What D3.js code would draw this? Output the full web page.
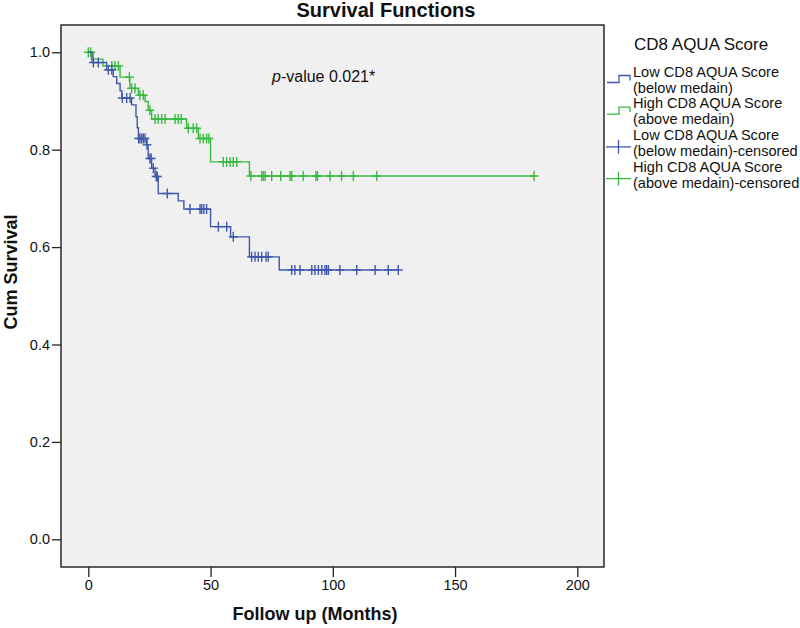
<!DOCTYPE html>
<html><head><meta charset="utf-8">
<script src="https://cdn.jsdelivr.net/npm/d3@7"></script>
<style>
body{margin:0;background:#fff;}
text{font-family:"Liberation Sans",Arial,sans-serif;fill:#111;}
</style>
</head><body>
<svg id="chart" width="800" height="628"></svg>
<script>
// ---- data ----
const lowStepTimes  = [1.5, 7.5, 10.2, 11.6, 13.0, 13.7, 17.7, 19.5, 20.0, 20.5, 23.9, 24.5, 25.9, 27.3, 28.6, 36.8, 39.1, 50.0, 58.2, 65.9, 78.1];
const lowStepSurv   = [0.979, 0.964, 0.950, 0.936, 0.921, 0.906, 0.892, 0.868, 0.845, 0.823, 0.810, 0.782, 0.762, 0.745, 0.710, 0.695, 0.678, 0.642, 0.621, 0.580, 0.553];
const lowCensorTimes = [2.1, 4.1, 8.2, 9.6, 13.9, 15.7, 17.1, 20.6, 21.1, 21.8, 22.5, 23.2, 24.0, 25.2, 25.7, 26.6, 27.8, 28.2, 32.3, 41.6, 45.7, 46.4, 47.3, 48.4, 53.2, 56.6, 59.3, 66.8, 68.2, 69.5, 70.9, 72.7, 73.6, 83.2, 84.5, 86.6, 91.4, 92.7, 94.1, 95.5, 96.8, 97.5, 98.2, 102.9, 109.8, 117.3, 122.7, 126.8];

const highStepTimes = [2.0, 6.0, 13.0, 17.0, 20.5, 23.2, 24.5, 25.9, 40.2, 45.0, 50.0, 65.9];
const highStepSurv  = [0.986, 0.972, 0.949, 0.926, 0.912, 0.899, 0.881, 0.863, 0.844, 0.823, 0.775, 0.746];
const highCensorTimes = [0, 1.0, 9.6, 10.9, 12.3, 16.8, 17.7, 19.1, 21.1, 22.5, 25.2, 27.3, 28.6, 30.0, 31.4, 35.5, 36.8, 38.0, 40.9, 42.9, 44.3, 45.7, 47.0, 48.4, 49.3, 55.2, 56.6, 58.0, 59.3, 60.7, 66.5, 70.9, 71.6, 72.3, 75.0, 78.7, 82.5, 83.2, 87.9, 93.1, 93.7, 98.9, 103.6, 108.4, 118.0, 182.3];

const xTicks = [0, 50, 100, 150, 200];
const yTicks = [0.0, 0.2, 0.4, 0.6, 0.8, 1.0];
const legendTitle = "CD8 AQUA Score";
const legendLabels = [
  ["Low CD8 AQUA Score", "(below medain)"],
  ["High CD8 AQUA Score", "(above medain)"],
  ["Low CD8 AQUA Score", "(below medain)-censored"],
  ["High CD8 AQUA Score", "(above medain)-censored"]
];
const chartTitle = "Survival Functions";
const xTitle = "Follow up (Months)";
const yTitle = "Cum Survival";

// ---- layout ----
const BLUE = "#3E58AC", GREEN = "#38BA40";
const frame = {l: 61, r: 604, t: 25, b: 567};
const x = d3.scaleLinear().domain([0, 200]).range([88.3, 577.3]);
const y = d3.scaleLinear().domain([0, 1]).range([539.3, 52.3]);

const svg = d3.select("#chart");

svg.append("rect").attr("x", frame.l).attr("y", frame.t)
  .attr("width", frame.r - frame.l).attr("height", frame.b - frame.t)
  .attr("fill", "#F0F0F0");

// axes
const yAxis = svg.append("g").attr("transform", `translate(${frame.l},0)`)
  .call(d3.axisLeft(y).tickValues(yTicks).tickFormat(d3.format(".1f")).tickSize(9).tickPadding(2));
const xAxis = svg.append("g").attr("transform", `translate(0,${frame.b})`)
  .call(d3.axisBottom(x).tickValues(xTicks).tickFormat(d3.format("d")).tickSize(10).tickPadding(3));
[yAxis, xAxis].forEach(g => {
  g.select(".domain").remove();
  g.selectAll(".tick line").attr("stroke", "#222").attr("stroke-width", 1.3);
  g.selectAll(".tick text").attr("font-size", 14.5).attr("fill", "#222")
    .attr("font-family", '"Liberation Sans",Arial,sans-serif');
});

svg.append("rect").attr("x", frame.l).attr("y", frame.t)
  .attr("width", frame.r - frame.l).attr("height", frame.b - frame.t)
  .attr("fill", "none").attr("stroke", "#2a2a2a").attr("stroke-width", 1.5);

// curves
function levelAt(times, surv, t) {
  let s = 1;
  for (let i = 0; i < times.length; i++) if (times[i] <= t) s = surv[i];
  return s;
}
function drawGroup(times, surv, censors, color) {
  const end = Math.max(d3.max(censors), d3.max(times));
  const pts = [[0, 1]].concat(times.map((t, i) => [t, surv[i]]));
  pts.push([end, surv[surv.length - 1]]);
  const line = d3.line().x(d => x(d[0])).y(d => y(d[1])).curve(d3.curveStepAfter);
  svg.append("path").attr("d", line(pts)).attr("fill", "none")
    .attr("stroke", color).attr("stroke-width", 1.4);
  const g = svg.append("g").attr("stroke", color).attr("stroke-width", 1.4);
  censors.forEach(t => {
    const cx = x(t), cy = y(levelAt(times, surv, t));
    g.append("line").attr("x1", cx - 4.5).attr("x2", cx + 4.5).attr("y1", cy).attr("y2", cy);
    g.append("line").attr("x1", cx).attr("x2", cx).attr("y1", cy - 5).attr("y2", cy + 5);
  });
}
drawGroup(highStepTimes, highStepSurv, highCensorTimes, GREEN);
drawGroup(lowStepTimes, lowStepSurv, lowCensorTimes, BLUE);

// p-value
const pv = svg.append("text").attr("x", 272).attr("y", 82).attr("font-size", 16);
pv.append("tspan").attr("font-style", "italic").text("p");
pv.append("tspan").text("-value 0.021*");

// titles
svg.append("text").attr("x", 386).attr("y", 17).attr("text-anchor", "middle")
  .attr("font-size", 20).attr("font-weight", "bold").text(chartTitle);
svg.append("text").attr("x", 315).attr("y", 620).attr("text-anchor", "middle")
  .attr("font-size", 18).attr("font-weight", "bold").text(xTitle);
svg.append("text").attr("transform", "translate(17,272) rotate(-90)").attr("text-anchor", "middle")
  .attr("font-size", 18).attr("font-weight", "bold").text(yTitle);

// legend
svg.append("text").attr("x", 634).attr("y", 50).attr("font-size", 17).text(legendTitle);
const legColors = [BLUE, GREEN, BLUE, GREEN];
legendLabels.forEach((lab, i) => {
  const top = 76.5 + i * 31.7;
  const g = svg.append("g");
  lab.forEach((ln, j) => g.append("text").attr("x", 633).attr("y", top + j * 16).attr("font-size", 14.6).text(ln));
  const my = top + 5;
  if (i < 2) {
    g.append("path").attr("d", `M607,${my + 1}H619V${my - 6}H630V${my - 1}`)
      .attr("fill", "none").attr("stroke", legColors[i]).attr("stroke-width", 1.3);
  } else {
    g.append("line").attr("x1", 606).attr("x2", 631).attr("y1", my + 2).attr("y2", my + 2)
      .attr("stroke", legColors[i]).attr("stroke-width", 1.3);
    g.append("line").attr("x1", 618.5).attr("x2", 618.5).attr("y1", my - 5).attr("y2", my + 9)
      .attr("stroke", legColors[i]).attr("stroke-width", 1.3);
  }
});
</script>
</body></html>
